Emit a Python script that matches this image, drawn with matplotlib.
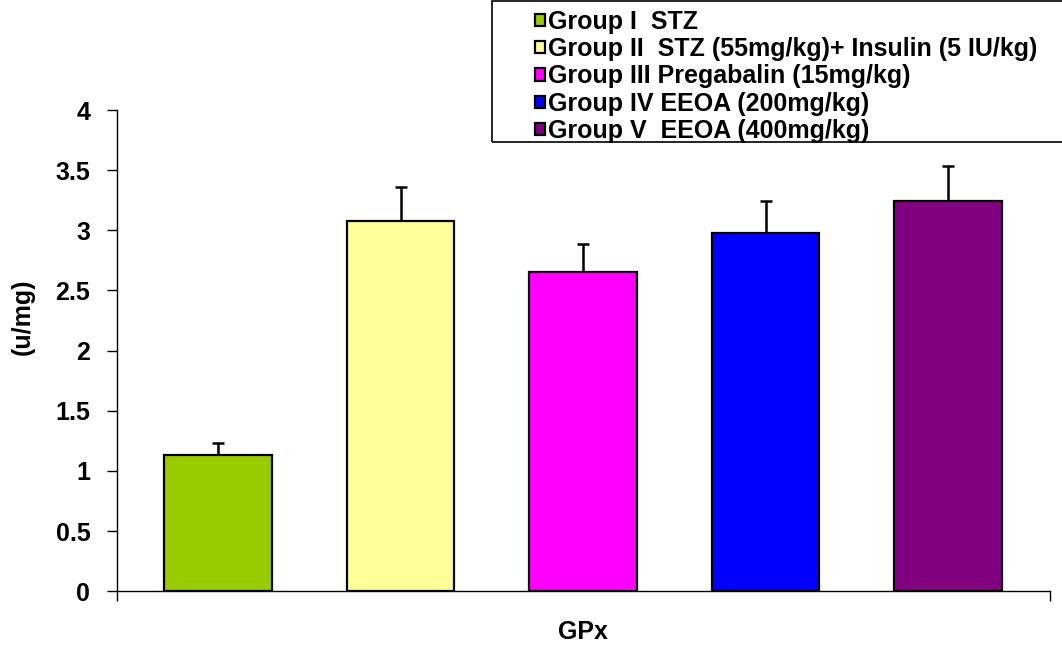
import matplotlib.pyplot as plt
from matplotlib.patches import Rectangle

# Data
groups = ["Group I  STZ",
          "Group II  STZ (55mg/kg)+ Insulin (5 IU/kg)",
          "Group III Pregabalin (15mg/kg)",
          "Group IV EEOA (200mg/kg)",
          "Group V  EEOA (400mg/kg)"]
values = [1.135, 3.08, 2.65, 2.98, 3.24]
errors = [0.095, 0.28, 0.24, 0.265, 0.295]
colors = ["#99CC00", "#FFFF99", "#FF00FF", "#0000FF", "#800080"]
yticks = [0, 0.5, 1, 1.5, 2, 2.5, 3, 3.5, 4]
ytick_labels = ["0", "0.5", "1", "1.5", "2", "2.5", "3", "3.5", "4"]

plt.rcParams["font.family"] = ["Liberation Sans", "DejaVu Sans"]
plt.rcParams["font.weight"] = "bold"
fs = 18

W, H = 1062, 646
fig = plt.figure(figsize=(W / 100, H / 100), dpi=100)
ax = fig.add_axes([116.7 / W, 1 - 591.3 / H, (1049.7 - 116.7) / W, (591.3 - 110) / H])

# Bars with upper error bars
x = list(range(len(values)))
bars = ax.bar(x, values, width=0.59, color=colors, edgecolor="black", linewidth=1.6,
              label=groups, zorder=2)
ax.errorbar(x, values, yerr=[[0] * len(errors), errors], fmt="none", ecolor="black",
            elinewidth=1.8, capsize=4.5, capthick=1.8, zorder=1)

ax.set_xlim(-0.555, 4.557)
ax.set_ylim(0, 4)
ax.set_yticks(yticks)
ax.set_yticklabels(ytick_labels, fontsize=fs, fontweight="bold")
ax.set_xticks([-0.555, 4.557])
ax.set_xticklabels(["", ""])
ax.tick_params(axis="y", direction="out", length=7, width=1, pad=12, colors="black")
ax.tick_params(axis="x", direction="out", length=7, width=1, colors="black")

ax.spines["top"].set_visible(False)
ax.spines["right"].set_visible(False)
ax.spines["left"].set_linewidth(1)
ax.spines["bottom"].set_linewidth(1)

# Axis titles
fig.text(583 / W, 1 - 632 / H, "GPx", ha="center", va="center", fontsize=fs, fontweight="bold")
fig.text(23 / W, 1 - 317 / H, "(u/mg)", ha="center", va="center", rotation=90,
         fontsize=fs, fontweight="bold")

# Legend box (runs off the right edge)
fig.patches.append(Rectangle((492 / W, 1 - 142 / H), (1075 - 492) / W, 141 / H,
                             transform=fig.transFigure, fill=False, edgecolor="black",
                             linewidth=1.2))
fig.legend(handles=bars.patches, labels=groups, loc="upper left",
           bbox_to_anchor=(535 / W, 1 - 10 / H), bbox_transform=fig.transFigure,
           frameon=False, borderpad=0, borderaxespad=0, handlelength=0.38,
           handleheight=0.38, handletextpad=0.16, labelspacing=0.13,
           prop={"size": fs, "weight": "bold"})

fig.savefig("out.png", dpi=100)
